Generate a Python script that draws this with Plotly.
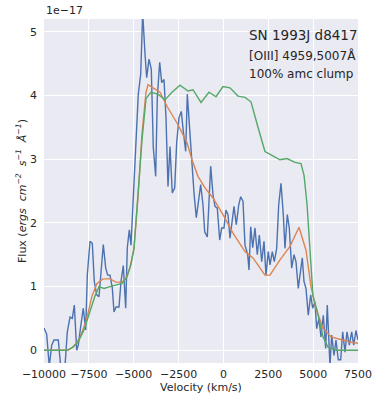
import plotly.graph_objects as go

# Observed spectrum (blue), flux in units of 1e-17
obs_v = [-10000, -9850, -9705, -9571, -9443, -9203, -9069, -8830, -8701, -8551,
         -8423, -8311, -8178, -8088, -7955, -7810, -7676, -7587, -7436, -7308,
         -7197, -7063, -6935, -6823, -6695, -6561, -6450, -6322, -6194, -6099,
         -5987, -5820, -5709, -5581, -5447, -5358, -5246, -5151, -5023, -4890,
         -4745, -4611, -4500, -4371, -4277, -4148, -4020, -3908, -3775, -3686,
         -3552, -3441, -3312, -3201, -3090, -2978, -2850, -2716, -2605, -2476,
         -2348, -2237, -2103, -2014, -1880, -1769, -1640, -1512, -1401, -1267,
         -1139, -1044, -899, -805, -710, -582, -470, -342, -208, -97,
         31, 143, 254, 366, 494, 589, 717, 851, 962, 1090,
         1202, 1353, 1425, 1520, 1632, 1759, 1888, 2000, 2133, 2261,
         2372, 2500, 2595, 2723, 2835, 2968, 3080, 3208, 3336, 3431,
         3559, 3670, 3804, 3933, 4044, 4172, 4267, 4395, 4490, 4601,
         4729, 4863, 4975, 5103, 5198, 5326, 5437, 5566, 5699, 5788,
         5939, 6034, 6162, 6273, 6402, 6535, 6647, 6775, 6886, 7015,
         7149, 7260, 7388, 7500]
obs_f = [0.35, 0.25, -0.25, 0.08, 0.16, 0.16, -0.25, -0.25, 0.29, 0.52,
         0.50, 0.71, 0.00, 0.08, 0.37, 0.66, 0.32, 1.18, 1.71, 1.68,
         1.08, 0.87, 0.84, 1.29, 1.66, 1.29, 1.18, 1.18, 0.98, 0.60,
         0.68, 0.68, 1.08, 1.33, 0.66, 1.61, 1.89, 1.65, 2.34, 3.18,
         4.02, 4.33, 5.30, 4.65, 4.28, 4.57, 4.41, 3.18, 2.73, 3.97,
         4.52, 4.20, 4.25, 3.65, 2.57, 3.20, 2.47, 2.55, 3.26, 3.65,
         3.75, 3.44, 3.12, 4.02, 3.44, 2.91, 2.47, 2.08, 2.36, 2.60,
         2.28, 1.86, 1.78, 2.34, 2.89, 2.44, 2.26, 2.23, 1.73, 1.92,
         1.92, 2.20, 2.13, 1.76, 2.02, 2.26, 1.97, 2.28, 2.41, 2.34,
         1.65, 1.50, 1.26, 1.94, 1.61, 1.92, 1.50, 1.81, 1.39, 1.71,
         1.18, 1.55, 1.34, 1.55, 1.39, 1.60, 2.28, 2.62, 2.13, 1.60,
         2.13, 1.92, 1.29, 1.50, 1.39, 0.97, 1.18, 1.45, 1.08, 0.97,
         0.55, 0.87, 0.66, 0.76, 0.34, 0.50, 0.21, 0.55, 0.03, 0.71,
         -0.25, 0.24, -0.08, 0.16, -0.15, -0.15, 0.29, -0.03, 0.29, 0.08,
         0.29, 0.08, 0.31, 0.16]

# Model 1 (orange)
m1_v = [-10000, -8663, -8328, -7994, -7659, -7325, -7046, -6712, -6322, -5987,
        -5653, -5430, -5207, -4984, -4761, -4538, -4315, -4203, -3925, -3535,
        -3145, -2532, -2030, -1752, -1418, -1027, -581, -24, 533, 1202,
        1648, 2316, 2595, 3152, 3710, 4212, 4602, 4880, 5159, 5548,
        5994, 6496, 7053, 7500]
m1_f = [0.00, 0.00, 0.06, 0.20, 0.45, 0.85, 1.05, 1.12, 1.12, 1.07,
        1.07, 1.13, 1.30, 1.60, 2.40, 3.40, 4.05, 4.17, 4.12, 4.05,
        3.83, 3.54, 3.26, 2.99, 2.73, 2.55, 2.39, 2.13, 1.84, 1.55,
        1.45, 1.18, 1.18, 1.42, 1.63, 1.93, 1.57, 1.00, 0.65, 0.35,
        0.21, 0.17, 0.13, 0.11]

# Model 2 (green)
m2_v = [-10000, -8718, -8440, -8105, -7771, -7436, -7158, -6935, -6656, -6322,
        -5987, -5653, -5374, -5151, -4984, -4761, -4538, -4315, -4037, -3647,
        -3257, -2867, -2421, -1975, -1697, -1250, -805, -414, -24, 366,
        812, 1202, 1536, 1926, 2316, 2707, 3152, 3542, 3988, 4322,
        4490, 4657, 4824, 4991, 5214, 5548, 5827, 6329, 7500]
m2_f = [0.00, 0.00, 0.04, 0.13, 0.32, 0.62, 0.85, 1.00, 0.97, 1.00,
        1.03, 1.05, 1.15, 1.35, 1.60, 2.40, 3.30, 3.95, 4.05, 4.02,
        3.93, 4.05, 4.16, 4.07, 4.09, 3.89, 4.05, 3.98, 4.14, 4.12,
        3.99, 3.97, 3.90, 3.50, 3.12, 3.06, 2.99, 3.01, 2.95, 2.93,
        2.75, 2.30, 1.65, 0.85, 0.63, 0.21, 0.05, 0.00, 0.00]

x_ticks = [-10000, -7500, -5000, -2500, 0, 2500, 5000, 7500]
x_labels = ["\u221210000", "\u22127500", "\u22125000", "\u22122500", "0", "2500", "5000", "7500"]
y_ticks = [0, 1, 2, 3, 4, 5]
y_labels = ["0", "1", "2", "3", "4", "5"]

FONT = "DejaVu Sans"
TXT = "#262626"

fig = go.Figure()
fig.add_trace(go.Scatter(x=obs_v, y=obs_f, mode="lines",
                         line=dict(color="#4C72B0", width=1.4), showlegend=False))
fig.add_trace(go.Scatter(x=m1_v, y=m1_f, mode="lines",
                         line=dict(color="#DD8452", width=1.4), showlegend=False))
fig.add_trace(go.Scatter(x=m2_v, y=m2_f, mode="lines",
                         line=dict(color="#55A868", width=1.4), showlegend=False))

fig.update_layout(
    width=372, height=394,
    margin=dict(l=44, r=14, t=19, b=31),
    paper_bgcolor="white",
    plot_bgcolor="#EAEAF2",
    font=dict(family=FONT, size=11, color=TXT),
    xaxis=dict(range=[-10000, 7500], tickvals=x_ticks, ticktext=x_labels,
               showgrid=True, gridcolor="white", gridwidth=1, zeroline=False,
               showline=False, ticks="", ticklabelstandoff=3,
               title=dict(text="Velocity (km/s)", font=dict(size=11, color=TXT), standoff=4),
               automargin=False),
    yaxis=dict(range=[-0.2, 5.2], tickvals=y_ticks, ticktext=y_labels,
               showgrid=True, gridcolor="white", gridwidth=1, zeroline=False,
               showline=False, ticks="", ticklabelstandoff=6,
               title=dict(text="Flux (<i>ergs  cm<sup>\u22122</sup>  s<sup>\u22121</sup>  \u00c5<sup>\u22121</sup></i>)",
                          font=dict(size=11, color=TXT), standoff=1),
               automargin=False),
)

fig.add_annotation(text="1e\u221217", xref="paper", yref="paper", x=0, y=1,
                   xanchor="left", yanchor="bottom", showarrow=False,
                   font=dict(size=11, color=TXT), yshift=0)
fig.add_annotation(text="SN 1993J d8417", xref="paper", yref="paper", x=0.648, y=0.953,
                   xanchor="left", yanchor="middle", showarrow=False,
                   font=dict(size=13.5, color=TXT))
fig.add_annotation(text="[OIII] 4959,5007\u00c5", xref="paper", yref="paper", x=0.648, y=0.895,
                   xanchor="left", yanchor="middle", showarrow=False,
                   font=dict(size=12, color=TXT))
fig.add_annotation(text="100% amc clump", xref="paper", yref="paper", x=0.648, y=0.84,
                   xanchor="left", yanchor="middle", showarrow=False,
                   font=dict(size=12, color=TXT))

fig.write_html("out.html")
